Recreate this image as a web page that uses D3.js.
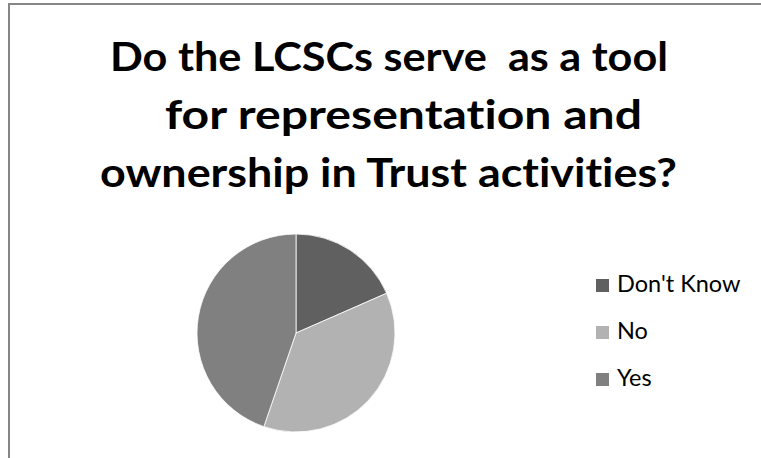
<!DOCTYPE html>
<html>
<head>
<meta charset="utf-8">
<script src="https://cdn.jsdelivr.net/npm/d3@7"></script>
<style>
  html, body { margin: 0; padding: 0; background: #ffffff; }
  svg { display: block; }
  text {
    font-family: Lato, "Open Sans", "DejaVu Sans", sans-serif;
    font-variant-ligatures: none;
    white-space: pre;
  }
</style>
</head>
<body>
<svg id="chart" width="761" height="458"></svg>
<script>
// Survey answers (respondent counts)
const categories = ["Don't Know", "No", "Yes"];
const counts = [7, 14, 17];
const sliceColors = ["#606060", "#b2b2b2", "#808080"];
const titleLines = [
  "Do the LCSCs serve  as a tool",
  "for representation and",
  "ownership in Trust activities?"
];

const svg = d3.select("#chart");
const W = 761, H = 458;

svg.append("rect").attr("width", W).attr("height", H).attr("fill", "#ffffff");

// chart area frame (runs off the right and bottom edges)
svg.append("rect")
  .attr("x", 9).attr("y", 4)
  .attr("width", W + 10).attr("height", H + 10)
  .attr("fill", "#ffffff")
  .attr("stroke", "#868686")
  .attr("stroke-width", 2);

// title: each wrapped line set to its own left edge and width
const titleLeft = [110, 165, 100];
const titleWidth = [558, 477, 577];
const titleY = [71, 129, 187];
svg.append("g").selectAll("text")
  .data(titleLines)
  .join("text")
  .attr("x", (d, i) => titleLeft[i])
  .attr("y", (d, i) => titleY[i])
  .attr("textLength", (d, i) => titleWidth[i])
  .attr("lengthAdjust", "spacingAndGlyphs")
  .attr("font-size", 41)
  .attr("font-weight", 700)
  .attr("fill", "#000000")
  .text(d => d);

// pie
const color = d3.scaleOrdinal().domain(categories).range(sliceColors);
const data = categories.map((c, i) => ({ label: c, value: counts[i] }));
const pie = d3.pie().value(d => d.value).sort(null);
const arc = d3.arc().innerRadius(0).outerRadius(99);

svg.append("g")
  .attr("transform", "translate(296,333)")
  .selectAll("path")
  .data(pie(data))
  .join("path")
  .attr("d", arc)
  .attr("fill", d => color(d.data.label))
  .attr("stroke", "#ffffff")
  .attr("stroke-width", 0.8);

// legend
const legendY = d3.scalePoint().domain(categories).range([292, 386]);
const legend = svg.append("g").selectAll("g")
  .data(categories)
  .join("g")
  .attr("transform", d => `translate(596,${legendY(d)})`);

legend.append("rect")
  .attr("x", 0).attr("y", -13)
  .attr("width", 13).attr("height", 13)
  .attr("fill", d => color(d));

legend.append("text")
  .attr("x", 21).attr("y", 0)
  .attr("font-size", 23.5)
  .attr("fill", "#000000")
  .text(d => d);
</script>
</body>
</html>
